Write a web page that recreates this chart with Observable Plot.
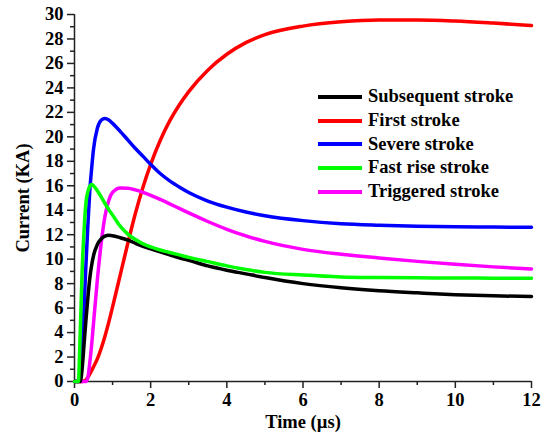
<!DOCTYPE html>
<html>
<head>
<meta charset="utf-8">
<script src="https://cdn.jsdelivr.net/npm/d3@7"></script>
<script src="https://cdn.jsdelivr.net/npm/@observablehq/plot@0.6"></script>
<style>
  html, body { margin: 0; padding: 0; background: #fff; }
  #wrap { position: relative; width: 549px; height: 434px; }
  #legend { position: absolute; left: 318px; top: 85px; font-family: "Liberation Serif", "Times New Roman", serif; font-weight: bold; font-size: 18.5px; color: #000; }
  .row { display: flex; align-items: center; height: 23.7px; }
  .sw { width: 44px; height: 4px; margin-right: 6px; }
</style>
</head>
<body>
<div id="wrap"><div id="legend"></div></div>
<script>
// Time grid (µs)
const time = [0, 0.1, 0.15, 0.2, 0.25, 0.3, 0.35, 0.4, 0.45, 0.5, 0.6, 0.7, 0.8, 0.9, 1.0, 1.2, 1.4, 1.6, 1.8, 2.0, 2.25, 2.5, 2.75, 3.0, 3.5, 4, 4.5, 5, 6, 7, 8, 9, 10, 11, 12];

// Current (kA) per stroke type
const subsequent = [0, 0, 0, 1, 3, 5, 6.8, 8.4, 9.5, 10.3, 11.2, 11.65, 11.88, 11.95, 11.92, 11.75, 11.55, 11.3, 11.05, 10.85, 10.6, 10.35, 10.1, 9.9, 9.45, 9.1, 8.8, 8.5, 8.0, 7.66, 7.42, 7.25, 7.1, 7.0, 6.95];
const first = [0, 0, 0, 0, 0.05, 0.15, 0.35, 0.6, 0.9, 1.2, 1.85, 2.7, 3.7, 4.85, 6.1, 8.7, 11.3, 13.75, 15.9, 17.75, 19.7, 21.3, 22.6, 23.7, 25.45, 26.75, 27.7, 28.35, 29.05, 29.4, 29.55, 29.56, 29.47, 29.3, 29.1];
const severe = [0, 0, 0.5, 2.5, 6, 9.5, 12.7, 15.5, 17.4, 19.0, 20.7, 21.35, 21.5, 21.38, 21.1, 20.45, 19.75, 19.05, 18.4, 17.75, 17.0, 16.4, 15.9, 15.45, 14.75, 14.25, 13.85, 13.55, 13.15, 12.9, 12.78, 12.7, 12.65, 12.62, 12.6];
const fastRise = [0, 0, 4, 9, 12.3, 14.6, 15.5, 15.95, 16.1, 16.0, 15.6, 15.1, 14.55, 14.05, 13.6, 12.7, 12.05, 11.6, 11.25, 11.0, 10.75, 10.55, 10.35, 10.15, 9.8, 9.45, 9.15, 8.92, 8.7, 8.55, 8.5, 8.48, 8.46, 8.45, 8.45];
const triggered = [0, 0, 0, 0, 0, 0, 0.3, 1.5, 3, 4.8, 8.3, 11.3, 13.5, 14.8, 15.45, 15.82, 15.8, 15.66, 15.46, 15.22, 14.88, 14.52, 14.15, 13.78, 13.08, 12.44, 11.9, 11.45, 10.8, 10.4, 10.1, 9.82, 9.58, 9.37, 9.2];

const seriesNames = ["Subsequent stroke", "First stroke", "Severe stroke", "Fast rise stroke", "Triggered stroke"];
const seriesColors = ["#000000", "#ff0000", "#0000ff", "#00ff00", "#ff00ff"];
const seriesValues = [subsequent, first, severe, fastRise, triggered];

const xMajor = [0, 2, 4, 6, 8, 10, 12];
const xMinor = [1, 3, 5, 7, 9, 11];
const yMajor = [0, 2, 4, 6, 8, 10, 12, 14, 16, 18, 20, 22, 24, 26, 28, 30];
const yMinor = [1, 3, 5, 7, 9, 11, 13, 15, 17, 19, 21, 23, 25, 27, 29];

const rows = [];
seriesNames.forEach((name, i) => {
  time.forEach((t, j) => rows.push({series: name, t, v: seriesValues[i][j]}));
});

const drawOrder = ["First stroke", "Severe stroke", "Triggered stroke", "Subsequent stroke", "Fast rise stroke"];

const serif = "'Liberation Serif', 'Times New Roman', serif";
const axisStroke = "#222";
const chart = Plot.plot({
  width: 549,
  height: 434,
  marginLeft: 74,
  marginRight: 18,
  marginTop: 14,
  marginBottom: 53,
  style: {fontFamily: serif, fontWeight: "bold", fontSize: "18px", color: "#000", background: "#fff"},
  x: {domain: [0, 12]},
  y: {domain: [0, 30]},
  color: {domain: seriesNames, range: seriesColors},
  marks: [
    Plot.axisX(xMinor, {tickSize: 4, tickFormat: () => "", stroke: axisStroke, strokeWidth: 1.5, label: null}),
    Plot.axisY(yMinor, {tickSize: 4, tickFormat: () => "", stroke: axisStroke, strokeWidth: 1.5, label: null}),
    Plot.axisX(xMajor, {tickSize: 7, tickPadding: 4, stroke: axisStroke, strokeWidth: 1.5, fill: "#000", fontSize: 18.5, fontFamily: serif, fontWeight: "bold",
      label: "Time (µs)", labelAnchor: "center", labelOffset: 46, labelArrow: "none"}),
    Plot.axisY(yMajor, {tickSize: 7, tickPadding: 4, stroke: axisStroke, strokeWidth: 1.5, fill: "#000", fontSize: 18.5, fontFamily: serif, fontWeight: "bold",
      label: "Current (KA)", labelAnchor: "center", labelOffset: 59, labelArrow: "none"}),
    Plot.ruleX([0], {stroke: axisStroke, strokeWidth: 1.5}),
    Plot.ruleY([0], {stroke: axisStroke, strokeWidth: 1.5}),
    ...drawOrder.map(name => Plot.line(rows.filter(d => d.series === name), {
      x: "t", y: "v", stroke: "series", strokeWidth: 3.5, curve: "monotone-x"
    }))
  ]
});
document.getElementById("wrap").prepend(chart);

const legend = document.getElementById("legend");
seriesNames.forEach((name, i) => {
  const row = document.createElement("div");
  row.className = "row";
  const sw = document.createElement("div");
  sw.className = "sw";
  sw.style.background = seriesColors[i];
  const tx = document.createElement("span");
  tx.textContent = name;
  row.append(sw, tx);
  legend.append(row);
});
</script>
</body>
</html>
